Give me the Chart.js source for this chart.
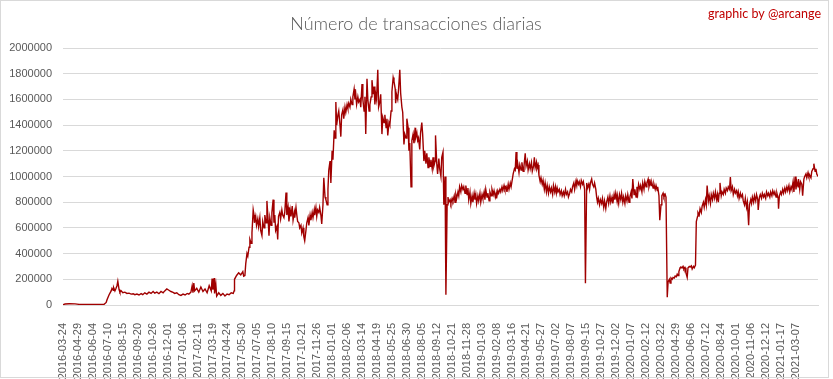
<!DOCTYPE html>
<html><head><meta charset="utf-8">
<script src="https://cdn.jsdelivr.net/npm/chart.js@4/dist/chart.umd.min.js"></script>
<style>html,body{margin:0;padding:0;background:#fff;}#wrap{width:833px;height:379px;position:relative;}</style>
</head><body><div id="wrap"><canvas id="c" width="833" height="379"></canvas></div>
<script>
const chartTitle = "Número de transacciones diarias";
const creditText = "graphic by @arcange";
// x tick labels: Excel shows one label every 36 rows
const tickLabels = ["2016-03-24","2016-04-29","2016-06-04","2016-07-10","2016-08-15","2016-09-20","2016-10-26","2016-12-01","2017-01-06","2017-02-11","2017-03-19","2017-04-24","2017-05-30","2017-07-05","2017-08-10","2017-09-15","2017-10-21","2017-11-26","2018-01-01","2018-02-06","2018-03-14","2018-04-19","2018-05-25","2018-06-30","2018-08-05","2018-09-12","2018-10-21","2018-11-28","2019-01-03","2019-02-08","2019-03-16","2019-04-21","2019-05-27","2019-07-02","2019-08-07","2019-09-15","2019-10-27","2019-12-02","2020-01-07","2020-02-12","2020-03-22","2020-04-29","2020-06-06","2020-07-12","2020-08-24","2020-10-01","2020-11-06","2020-12-12","2021-01-17","2021-03-07"];
const labelInterval = 36;
const lastRow = 1818;
const yTicksMax = 2000000, yTicksStep = 200000;
const rowIndex = [0,5,15,29,39,69,99,104,106,111,116,118,121,122,125,127,130,132,135,137,140,144,149,154,159,164,169,173,178,183,188,192,197,202,207,212,217,221,226,231,236,241,245,250,255,260,265,269,274,279,284,289,294,299,303,308,311,313,315,317,322,327,332,337,342,347,352,357,359,361,364,365,368,370,375,380,385,390,395,400,405,410,412,
413,418,423,428,433,435,438,440,443,445,448,450,453,455,458,460,461,464,466,469,471,474,476,479,481,484,486,489,491,494,496,498,501,503,506,508,510,512,515,517,519,522,524,527,529,532,534,537,539,542,544,547,549,552,554,557,558,561,563,565,568,570,573,575,578,580,582,585,587,590,592,595,597,600,602,605,606,609,611,613,616,618,621,623,626,628,631,633,636,638,640,643,645,648,650,653,655,657,659,662,664,667,669,671,674,676,679,681,684,686,688,691,693,696,698,701,703,705,707,710,712,715,717,720,722,725,727,729,732,734,737,739,742,744,747,749,751,753,755,758,760,763,765,768,770,773,775,778,780,782,785,787,790,792,795,797,800,801,803,806,808,811,813,816,818,821,823,826,828,831,833,835,838,840,843,845,848,849,852,854,856,859,861,864,866,869,871,874,876,879,881,884,886,889,891,893,896,897,900,902,905,907,910,912,915,917,920,922,925,927,929,932,934,937,939,942,944,946,948,951,953,955,958,960,963,965,968,970,973,
975,977,980,982,985,987,990,992,994,996,999,1001,1004,1006,1009,1011,1014,1016,1018,1021,1023,1026,1028,1031,1033,1036,1038,1041,1043,1044,1047,1049,1052,1054,1057,1059,1062,1064,1067,1069,1072,1074,1077,1079,1082,1084,1087,1089,1091,1093,1095,1098,1100,1103,1105,1108,1110,1113,1115,1118,1120,1123,1125,1128,1130,1133,1135,1137,1140,1141,1144,1146,1149,1151,1154,1156,1159,1161,1164,1166,1169,1171,1174,1176,1179,1181,1184,1186,1188,1190,1192,1195,1197,1200,1202,1205,1207,1210,1212,1215,1217,1220,1222,1225,1227,1230,1232,1235,1237,1238,1241,1243,1246,1248,1251,1253,1256,1258,1261,1263,1266,1268,1270,1273,1275,1278,1280,1283,1285,1287,1289,1292,1294,1297,1299,1302,1304,1307,1309,1312,1314,1317,1319,1322,1324,1327,1329,1331,1334,1335,1338,1340,1343,1345,1348,1350,1353,1355,1358,1360,1363,1365,1368,1370,1372,1375,1377,1380,1382,1384,1386,1389,1391,1394,1396,1399,1401,1404,1406,1409,1411,1414,1416,1418,1421,1423,1426,1428,1431,1432,1435,1437,1440,1442,1445,1447,1450,1452,1455,1457,1460,1462,1464,1467,1469,1472,1474,1477,1479,1481,1483,1486,1488,1491,1493,1495,1498,1500,1503,1505,1508,1510,1513,1515,1518,1520,1523,1525,1528,1529,1532,1534,1537,1539,1542,1544,1547,1549,1551,1554,1556,1559,1561,1564,1566,1569,1571,1574,1576,1578,1580,1582,1585,1587,1590,1592,1595,1597,1600,1602,1605,1607,1609,1612,1614,1617,1619,1622,1624,1626,1628,1631,1633,1636,1638,1641,1643,1646,1648,1651,1653,1656,1658,1660,1663,1665,1668,1670,1673,1674,1677,1679,1682,1684,1687,1689,1692,1694,1697,1699,1702,1704,1707,1709,1712,1714,1717,1719,1722,1723,1725,1728,1730,1733,1735,1738,1740,1743,1745,1748,1750,1753,1755,1758,1760,1763,1765,1767,1770,1771,1774,1776,1779,1781,1784,1786,1789,1791,1794,1796,1798,1801,1803,1806,1808,1811,1813,1815,1818];
const transactions = [2000,8000,10000,9000,5000,5000,6000,20000,40000,80000,110000,130000,115000,135000,110000,125000,150000,185000,120000,100000,110000,95000,100000,90000,92000,85000,88000,80000,85000,78000,88000,80000,95000,85000,100000,90000,105000,92000,100000,88000,105000,95000,110000,125000,115000,105000,98000,90000,95000,80000,75000,85000,78000,90000,85000,100000,150000,95000,170000,110000,130000,100000,140000,105000,125000,95000,150000,110000,205000,120000,210000,90000,160000,70000,95000,75000,90000,70000,85000,80000,95000,90000,110000,
200000,230000,250000,235000,260000,225000,230000,320000,400000,380000,450000,510000,480000,560000,740000,700000,640000,690000,620000,670000,610000,680000,580000,540000,650000,600000,700000,640000,810000,660000,540000,680000,620000,720000,820000,640000,700000,580000,610000,510000,690000,720000,670000,740000,700000,680000,720000,875000,700000,760000,650000,740000,690000,770000,660000,720000,680000,760000,700000,650000,640000,600000,620000,560000,600000,530000,500000,580000,640000,680000,620000,700000,660000,720000,680000,740000,700000,760000,690000,740000,720000,760000,700000,630000,780000,990000,840000,820000,780000,900000,1050000,1120000,950000,1200000,1130000,1360000,1300000,1580000,1400000,1480000,1510000,1400000,1310000,1480000,1520000,1450000,1540000,1500000,1560000,1530000,1570000,1540000,1600000,1560000,1620000,1680000,1600000,1640000,1560000,1620000,1580000,1600000,1540000,1720000,1600000,1510000,1620000,1330000,1760000,1600000,1510000,1560000,1620000,1750000,1640000,1700000,1560000,1640000,1600000,1830000,1540000,1580000,1640000,1330000,1460000,1420000,1480000,1380000,1450000,1320000,1420000,1400000,1510000,1660000,1770000,1740000,1680000,1570000,1640000,1600000,1680000,1830000,1650000,1540000,1500000,1250000,1330000,1300000,1450000,1380000,1200000,1260000,920000,1280000,1330000,1260000,1380000,1300000,1340000,1280000,1300000,1210000,1340000,1420000,1330000,1120000,1200000,1100000,1180000,1070000,1150000,1080000,1130000,1060000,1150000,1080000,1120000,1320000,1100000,1020000,1140000,1060000,1000000,1150000,1190000,780000,1000000,80000,780000,840000,800000,820000,790000,830000,810000,850000,800000,860000,830000,880000,850000,920000,880000,930000,900000,920000,870000,930000,860000,
910000,820000,880000,790000,850000,800000,870000,820000,860000,790000,850000,810000,870000,800000,860000,830000,880000,820000,900000,840000,870000,810000,880000,850000,900000,860000,890000,840000,870000,830000,890000,870000,900000,880000,920000,890000,930000,900000,920000,880000,940000,900000,950000,920000,980000,1020000,1060000,1050000,1190000,1060000,1100000,1030000,1090000,1050000,1110000,1040000,1080000,1180000,1080000,1120000,1050000,1100000,1060000,1110000,1040000,1080000,1150000,1070000,1110000,1060000,1090000,1010000,960000,990000,940000,970000,900000,950000,880000,930000,870000,920000,880000,910000,860000,930000,880000,920000,870000,910000,880000,900000,860000,890000,850000,880000,850000,900000,860000,880000,840000,870000,900000,880000,920000,950000,900000,960000,930000,970000,940000,960000,920000,970000,940000,960000,900000,170000,950000,910000,940000,900000,950000,980000,940000,920000,950000,900000,840000,800000,830000,780000,820000,790000,830000,760000,810000,750000,800000,840000,790000,850000,800000,840000,790000,860000,820000,870000,810000,850000,790000,860000,820000,870000,800000,840000,790000,850000,810000,860000,800000,840000,880000,830000,980000,860000,900000,840000,920000,870000,940000,900000,930000,880000,950000,900000,960000,920000,950000,980000,920000,960000,930000,950000,910000,940000,900000,930000,890000,920000,850000,660000,780000,850000,870000,840000,860000,840000,60000,180000,200000,170000,210000,200000,215000,210000,225000,220000,240000,230000,260000,290000,295000,290000,300000,280000,290000,250000,215000,290000,300000,295000,305000,280000,300000,290000,310000,650000,690000,720000,700000,750000,720000,770000,800000,760000,820000,780000,930000,810000,850000,790000,860000,820000,870000,830000,880000,820000,860000,800000,870000,950000,850000,880000,860000,900000,870000,910000,890000,920000,900000,995000,890000,920000,860000,900000,870000,890000,850000,880000,830000,870000,840000,860000,810000,780000,830000,760000,800000,620000,780000,820000,790000,840000,800000,850000,810000,860000,820000,740000,840000,860000,830000,870000,840000,860000,830000,880000,850000,870000,840000,880000,850000,890000,860000,880000,840000,870000,830000,750000,850000,880000,860000,900000,870000,910000,880000,920000,890000,930000,880000,920000,900000,960000,880000,1000000,900000,960000,920000,980000,900000,960000,940000,850000,980000,1000000,1020000,990000,1030000,1000000,1010000,990000,1040000,1060000,1100000,1040000,1060000,1020000,1000000];

const points = rowIndex.map((r, i) => ({x: r, y: transactions[i]}));

const frame = {
  id: 'frame',
  beforeDraw(chart) {
    const ctx = chart.ctx;
    ctx.save();
    ctx.fillStyle = '#ffffff';
    ctx.fillRect(0, 0, chart.width, chart.height);
    ctx.restore();
  },
  afterDraw(chart) {
    const ctx = chart.ctx;
    ctx.save();
    ctx.strokeStyle = '#d9d9d9';
    ctx.lineWidth = 1;
    ctx.strokeRect(0.5, 0.5, 828, 377);
    ctx.fillStyle = '#595959';
    ctx.font = '300 18px Lato';
    ctx.textAlign = 'center';
    ctx.textBaseline = 'middle';
    ctx.fillText(chartTitle, 416, 24);
    ctx.fillStyle = '#c00000';
    ctx.font = '12.5px Lato';
    ctx.textAlign = 'right';
    ctx.fillText(creditText, 821, 14);
    ctx.restore();
  }
};

new Chart(document.getElementById('c'), {
  type: 'line',
  data: { datasets: [{ data: points, borderColor: '#a00000', borderWidth: 1.4, pointRadius: 0, tension: 0, fill: false }] },
  options: {
    responsive: false, animation: false,
    layout: { padding: { left: 0, right: 15, top: 48, bottom: 0 } },
    plugins: { legend: { display: false }, tooltip: { enabled: false }, title: { display: false } },
    scales: {
      x: {
        type: 'linear', min: 0, max: lastRow,
        grid: { display: false },
        border: { display: true, color: '#d9d9d9' },
        afterBuildTicks: (scale) => { scale.ticks = tickLabels.map((_, i) => ({ value: i * labelInterval })); },
        afterFit: (scale) => { scale.height = 74; },
        ticks: { autoSkip: false, maxRotation: 90, minRotation: 90, padding: 10, color: '#595959', font: { family: 'Liberation Sans', size: 11 },
          callback: (v, i) => tickLabels[i] }
      },
      y: {
        min: 0, max: yTicksMax,
        grid: { color: '#d9d9d9', drawTicks: false },
        border: { display: false },
        afterFit: (scale) => { scale.width = 63; },
        ticks: { stepSize: yTicksStep, padding: 11, color: '#595959', font: { family: 'Liberation Sans', size: 11 }, callback: (v) => String(v) }
      }
    }
  },
  plugins: [frame]
});
</script></body></html>
